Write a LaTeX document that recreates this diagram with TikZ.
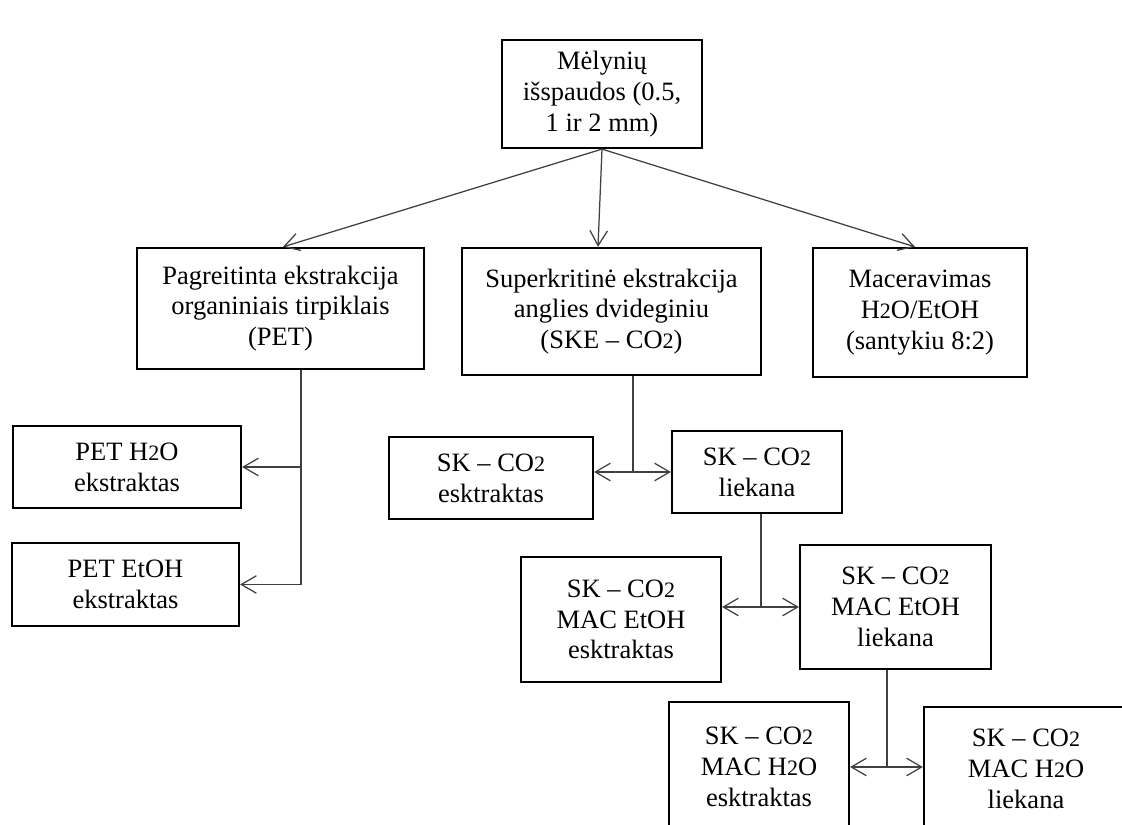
\documentclass[tikz,border=0pt]{standalone}
\usepackage{fontspec}
\setmainfont{Liberation Serif}
\usetikzlibrary{arrows.meta}
\newcommand{\lowdig}[1]{{\fontsize{8.8}{10}\selectfont #1}}
\tikzset{
  stage/.style={draw=black,line width=0.9pt,align=center,inner sep=0pt,font=\fontsize{10.6}{12.3}\selectfont},
  boxsize/.style 2 args={minimum width=#1*0.4pt,minimum height=#2*0.4pt},
  link/.style={draw=black!75,line width=0.5pt},
  flow/.style={link,-{Straight Barb[length=6pt,width=7pt]}},
  split/.style={link,{Straight Barb[length=6pt,width=7pt]}-{Straight Barb[length=6pt,width=7pt]}}
}
\begin{document}
\begin{tikzpicture}[x=0.4pt,y=-0.4pt]
\useasboundingbox (0,0) rectangle (1122,825);
\clip (0,0) rectangle (1122,825);
\fill[white] (0,0) rectangle (1122,825);
% source and the three methods
\node[stage,boxsize={200}{108}] (raw) at (602,94) {Mėlynių\\išspaudos (0.5,\\1 ir 2 mm)};
\node[stage,boxsize={287}{121}] (pet) at (280.5,308.5) {Pagreitinta ekstrakcija\\organiniais tirpiklais\\(PET)};
\node[stage,boxsize={299}{127}] (ske) at (611.5,311.5) {Superkritinė ekstrakcija\\anglies dvideginiu\\(SKE – CO\lowdig{2})};
\node[stage,boxsize={214}{129}] (mac) at (920,312.5) {Maceravimas\\H\lowdig{2}O/EtOH\\(santykiu 8:2)};
% PET products
\node[stage,boxsize={228}{82}] (petwater) at (127,467) {PET H\lowdig{2}O\\ekstraktas};
\node[stage,boxsize={227}{83}] (petethanol) at (125.5,584.5) {PET EtOH\\ekstraktas};
% SKE cascade
\node[stage,boxsize={204}{82}] (skextract) at (491,478) {SK – CO\lowdig{2}\\esktraktas};
\node[stage,boxsize={170}{82}] (skresidue) at (757,472) {SK – CO\lowdig{2}\\liekana};
\node[stage,boxsize={200}{125}] (etextract) at (621,619.5) {SK – CO\lowdig{2}\\MAC EtOH\\esktraktas};
\node[stage,boxsize={191}{124}] (etresidue) at (895.5,607) {SK – CO\lowdig{2}\\MAC EtOH\\liekana};
\node[stage,boxsize={180}{130}] (wextract) at (759,767) {SK – CO\lowdig{2}\\MAC H\lowdig{2}O\\esktraktas};
\node[stage,boxsize={204}{124}] (wresidue) at (1026,769) {SK – CO\lowdig{2}\\MAC H\lowdig{2}O\\liekana};
% connectors
\draw[flow] (raw.south) -- ([xshift=1pt]pet.north);
\draw[flow] (raw.south) -- ([xshift=-5.4pt]ske.north);
\draw[flow] (raw.south) -- ([xshift=-2pt]mac.north);
\coordinate (petbus) at ([xshift=8.2pt]pet.south);
\draw[flow] (petbus) |- (petwater.east);
\draw[flow] (petbus) |- (petethanol.east);
\coordinate (skebus) at ([xshift=8.6pt]ske.south);
\draw[link] (skebus) -- (skebus |- skresidue.west);
\draw[split] (skextract.east |- skresidue.west) -- (skresidue.west);
\coordinate (resbus) at ([xshift=1.6pt]skresidue.south);
\draw[link] (resbus) -- (resbus |- etresidue.west);
\draw[split] (etextract.east |- etresidue.west) -- (etresidue.west);
\coordinate (etbus) at ([xshift=-3.4pt]etresidue.south);
\draw[link] (etbus) -- (etbus |- wextract.east);
\draw[split] (wextract.east) -- (wextract.east -| wresidue.west);
\end{tikzpicture}
\end{document}
